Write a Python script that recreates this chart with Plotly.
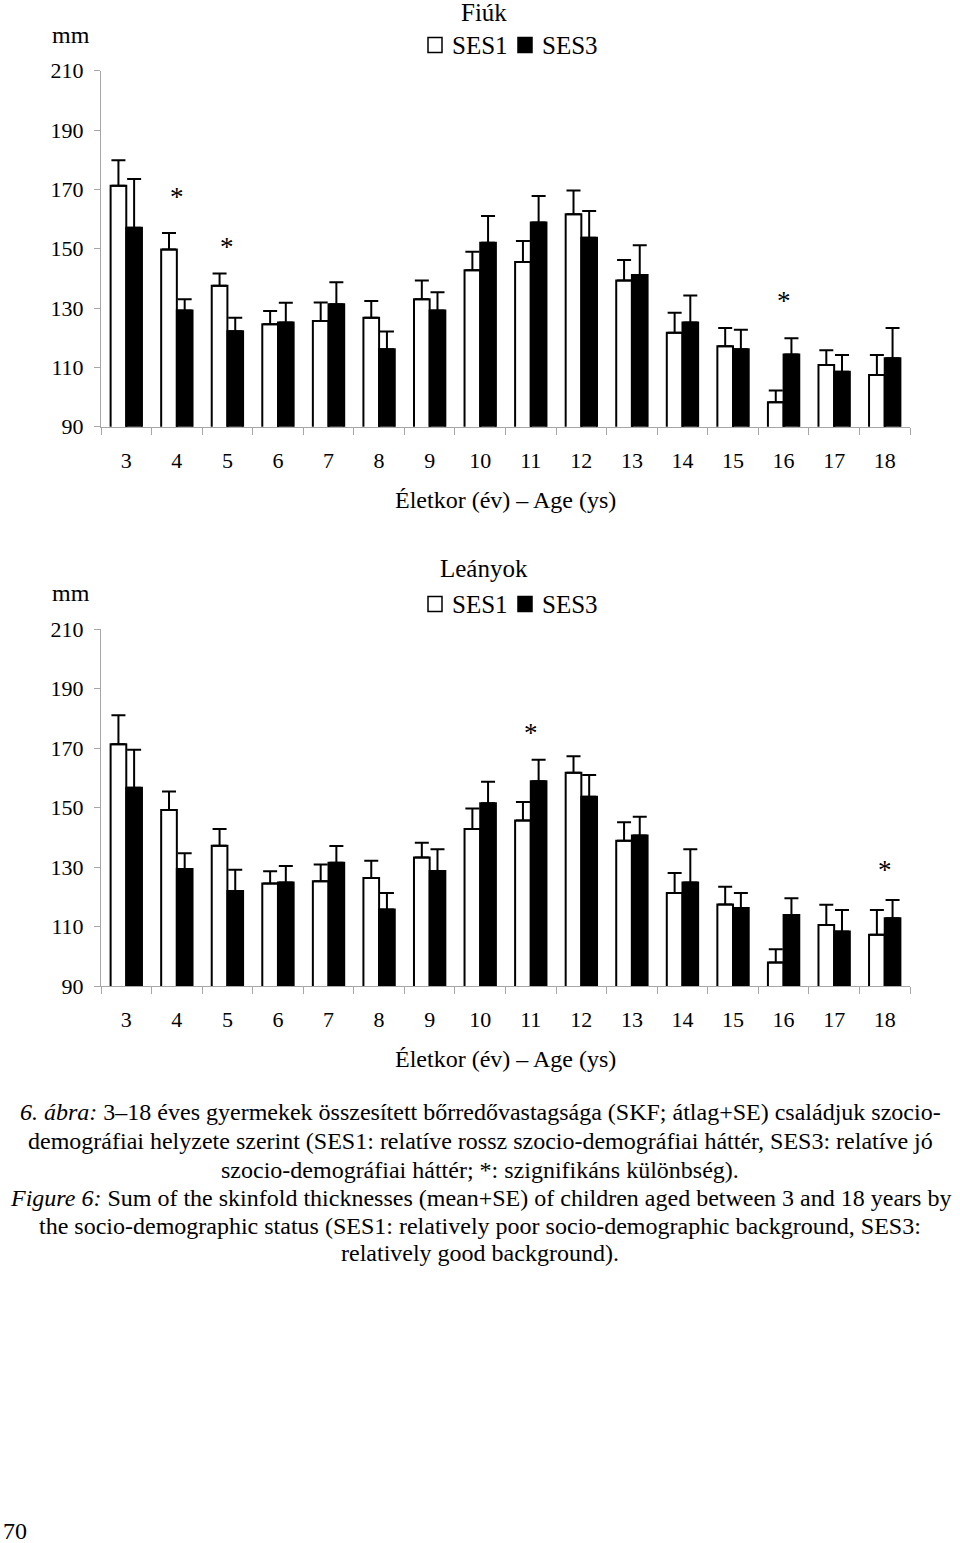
import plotly.graph_objects as go

ages = [str(a) for a in range(3, 19)]

# Boys (Fiúk)
boys_ses1 = [171.2, 149.7, 137.5, 124.5, 125.6, 126.7, 133.0, 142.7, 145.5, 161.6, 139.3, 121.7, 117.1, 98.2, 110.8, 107.4]
boys_ses1_se = [8.6, 5.6, 4.1, 4.5, 6.3, 5.7, 6.3, 6.3, 7.1, 8.0, 6.9, 6.7, 6.2, 4.0, 5.0, 6.8]
boys_ses3 = [157.1, 129.2, 122.2, 125.1, 131.3, 116.1, 129.2, 152.0, 158.8, 153.7, 141.1, 125.1, 116.1, 114.3, 108.5, 113.1]
boys_ses3_se = [16.4, 3.8, 4.5, 6.7, 7.4, 6.0, 6.1, 9.0, 9.0, 9.0, 10.1, 9.1, 6.6, 5.5, 5.7, 10.2]
boys_sig = ["4", "5", "16"]
boys_star_y = [168.7, 152.0, 133.8]

# Girls (Leányok)
girls_ses1 = [171.3, 149.2, 137.2, 124.5, 125.2, 126.3, 133.2, 142.8, 145.7, 161.7, 138.9, 121.3, 117.4, 97.9, 110.5, 107.2]
girls_ses1_se = [9.8, 6.2, 5.6, 4.1, 5.7, 5.8, 5.0, 6.9, 6.2, 5.6, 6.2, 6.7, 6.0, 4.5, 6.8, 8.4]
girls_ses3 = [156.7, 129.4, 122.0, 124.8, 131.5, 115.7, 128.7, 151.5, 158.9, 153.7, 140.6, 124.8, 116.2, 113.9, 108.3, 112.8]
girls_ses3_se = [12.8, 5.3, 7.1, 5.6, 5.6, 5.6, 7.3, 7.2, 7.2, 7.3, 6.3, 11.2, 5.1, 5.6, 7.3, 6.1]
girls_sig = ["11", "18"]
girls_star_y = [176.5, 130.5]

y_ticks = [90, 110, 130, 150, 170, 190, 210]
series_names = ["SES1", "SES3"]

caption_lines = [
    "<i>6. ábra:</i> 3–18 éves gyermekek összesített bőrredővastagsága (SKF; átlag+SE) családjuk szocio-",
    "demográfiai helyzete szerint (SES1: relatíve rossz szocio-demográfiai háttér, SES3: relatíve jó",
    "szocio-demográfiai háttér; *: szignifikáns különbség).",
    "<i>Figure 6:</i> Sum of the skinfold thicknesses (mean+SE) of children aged between 3 and 18 years by",
    "the socio-demographic status (SES1: relatively poor socio-demographic background, SES3:",
    "relatively good background).",
]

FONT = "Liberation Serif, Times New Roman, serif"
W, H = 960, 1543
AXC = "#a6a6a6"


def py(pix):
    return 1 - pix / H


fig = go.Figure()

panels = [
    dict(xa="x", ya="y", s1=boys_ses1, e1=boys_ses1_se, s3=boys_ses3, e3=boys_ses3_se,
         sig=boys_sig, sy=boys_star_y, top=70.7, bot=426.7, title="Fiúk", title_y=12,
         mm_y=35, leg_y=45),
    dict(xa="x2", ya="y2", s1=girls_ses1, e1=girls_ses1_se, s3=girls_ses3, e3=girls_ses3_se,
         sig=girls_sig, sy=girls_star_y, top=629.3, bot=986.0, title="Leányok", title_y=569,
         mm_y=593, leg_y=604),
]

annotations = []
shapes = []
for p in panels:
    fig.add_trace(go.Bar(
        x=ages, y=p["s1"], name=series_names[0], xaxis=p["xa"], yaxis=p["ya"], showlegend=False,
        marker=dict(color="white", line=dict(color="black", width=2)),
        error_y=dict(type="data", array=p["e1"], arrayminus=[0] * len(ages), symmetric=False,
                     color="black", thickness=2, width=7),
    ))
    fig.add_trace(go.Bar(
        x=ages, y=p["s3"], name=series_names[1], xaxis=p["xa"], yaxis=p["ya"], showlegend=False,
        marker=dict(color="black", line=dict(color="black", width=2)),
        error_y=dict(type="data", array=p["e3"], arrayminus=[0] * len(ages), symmetric=False,
                     color="black", thickness=2, width=7),
    ))
    for cat, yv in zip(p["sig"], p["sy"]):
        annotations.append(dict(x=ages.index(cat), y=yv, xref=p["xa"], yref=p["ya"], text="*",
                                showarrow=False, font=dict(family=FONT, size=27, color="black"),
                                yanchor="middle", yshift=-4))
    annotations.append(dict(x=484 / W, y=py(p["title_y"]), xref="paper", yref="paper", text=p["title"],
                            showarrow=False, font=dict(family=FONT, size=25, color="black"),
                            xanchor="center", yanchor="middle"))
    annotations.append(dict(x=50 / W, y=py(p["mm_y"]), xref="paper", yref="paper", text="mm",
                            showarrow=False, font=dict(family=FONT, size=24, color="black"),
                            xanchor="left", yanchor="middle"))
    annotations.append(dict(x=505.5 / W, y=py(p["bot"] + 73), xref="paper", yref="paper",
                            text="Életkor (év) – Age (ys)", showarrow=False,
                            font=dict(family=FONT, size=24, color="black"),
                            xanchor="center", yanchor="middle"))
    # legend (manual)
    ly = p["leg_y"]
    for (x0, fill), (tx, name) in zip([(428, "white"), (518, "black")], [(450, series_names[0]), (540, series_names[1])]):
        shapes.append(dict(type="rect", xref="paper", yref="paper", x0=x0 / W, x1=(x0 + 14) / W,
                           y0=py(ly + 7.5), y1=py(ly - 7.5), fillcolor=fill,
                           line=dict(color="black", width=1.5)))
        annotations.append(dict(x=tx / W, y=py(ly), xref="paper", yref="paper", text=name,
                                showarrow=False, font=dict(family=FONT, size=25, color="black"),
                                xanchor="left", yanchor="middle"))

cap_y = [1112, 1141, 1170, 1198, 1226, 1253]
for line, yv in zip(caption_lines, cap_y):
    annotations.append(dict(x=0.5, y=py(yv), xref="paper", yref="paper", text=line, showarrow=False,
                            font=dict(family=FONT, size=24, color="black"),
                            xanchor="center", yanchor="middle"))
annotations.append(dict(x=1 / W, y=py(1531), xref="paper", yref="paper", text="70", showarrow=False,
                        font=dict(family=FONT, size=24, color="black"), xanchor="left", yanchor="middle"))

xdom = [101 / W, 910 / W]
axis_common_x = dict(type="category", range=[-0.5, 15.5], showline=True, linecolor=AXC, linewidth=1,
                     ticks="outside", tickson="boundaries", ticklen=7, tickcolor=AXC, showgrid=False,
                     zeroline=False, tickfont=dict(family=FONT, size=22, color="black"),
                     ticklabelstandoff=14, domain=xdom, fixedrange=True)
axis_common_y = dict(range=[90, 210], tickvals=y_ticks, showline=True, linecolor=AXC, linewidth=1,
                     ticks="outside", ticklen=6, tickcolor=AXC, showgrid=False, zeroline=False,
                     tickfont=dict(family=FONT, size=22, color="black"), ticklabelstandoff=6,
                     fixedrange=True)

fig.update_layout(
    width=W, height=H,
    margin=dict(l=0, r=0, t=0, b=0, autoexpand=False),
    paper_bgcolor="white", plot_bgcolor="white",
    barmode="group", bargap=0.38, bargroupgap=0,
    showlegend=False,
    xaxis=dict(anchor="y", **axis_common_x),
    yaxis=dict(anchor="x", domain=[py(426.7), py(70.7)], **axis_common_y),
    xaxis2=dict(anchor="y2", **axis_common_x),
    yaxis2=dict(anchor="x2", domain=[py(986.0), py(629.3)], **axis_common_y),
    annotations=annotations,
    shapes=shapes,
    font=dict(family=FONT, color="black"),
)

fig.write_html("out.html")
